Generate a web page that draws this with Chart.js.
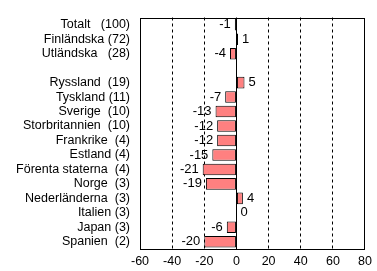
<!DOCTYPE html>
<html>
<head>
<meta charset="utf-8">
<script src="https://cdn.jsdelivr.net/npm/chart.js@4"></script>
<style>
  html, body { margin: 0; padding: 0; background: #fff; }
  #wrap { width: 377px; height: 271px; }
</style>
</head>
<body>
<div id="wrap"><canvas id="grafico"></canvas></div>
<script>
// Kategorier (tom rad mellan Utländska och Ryssland)
const kategorier = [
  "Totalt   (100)", "Finländska (72)", "Utländska   (28)", "",
  "Ryssland  (19)", "Tyskland (11)", "Sverige  (10)", "Storbritannien  (10)",
  "Frankrike  (4)", "Estland (4)", "Förenta staterna  (4)", "Norge  (3)",
  "Nederländerna  (3)", "Italien (3)", "Japan (3)", "Spanien  (2)"
];
const forandring = [-1, 1, -4, null, 5, -7, -13, -12, -12, -15, -21, -19, 4, 0, -6, -20];
const xTicks = [-60, -40, -20, 0, 20, 40, 60, 80];

const fontFamily = "Arial, 'Liberation Sans', sans-serif";

// Värdeetiketter vid staplarnas ändar
const etiketter = {
  id: "etiketter",
  afterDatasetsDraw(chart) {
    const ctx = chart.ctx;
    const meta = chart.getDatasetMeta(0);
    ctx.save();
    ctx.font = "13px " + fontFamily;
    ctx.fillStyle = "#000";
    ctx.textBaseline = "middle";
    meta.data.forEach((bar, i) => {
      const v = forandring[i];
      if (v === null) return;
      if (v < 0) {
        ctx.textAlign = "right";
        ctx.fillText(String(v), Math.min(bar.x, bar.base) - 4, bar.y);
      } else {
        ctx.textAlign = "left";
        ctx.fillText(String(v), Math.max(bar.x, bar.base) + 4, bar.y);
      }
    });
    ctx.restore();
  }
};

// Ram runt diagrammet och nollinje
const ram = {
  id: "ram",
  afterDatasetsDraw(chart) {
    const ctx = chart.ctx;
    const a = chart.chartArea;
    const x0 = chart.scales.x.getPixelForValue(0);
    ctx.save();
    ctx.strokeStyle = "#000";
    ctx.lineWidth = 1;
    ctx.beginPath();
    ctx.moveTo(Math.round(x0) + 0.5, a.top);
    ctx.lineTo(Math.round(x0) + 0.5, a.bottom);
    ctx.stroke();
    ctx.strokeRect(Math.round(a.left) + 0.5, Math.round(a.top) + 0.5,
      Math.round(a.right - a.left) - 1, Math.round(a.bottom - a.top) - 1);
    ctx.restore();
  }
};

new Chart(document.getElementById("grafico"), {
  type: "bar",
  data: {
    labels: kategorier,
    datasets: [{
      data: forandring,
      backgroundColor: "#FF8080",
      borderColor: "#000",
      borderWidth: 1,
      borderSkipped: false,
      barPercentage: 0.8,
      categoryPercentage: 1
    }]
  },
  options: {
    indexAxis: "y",
    responsive: true,
    maintainAspectRatio: false,
    animation: false,
    layout: { padding: { top: 3, right: 7, left: 0, bottom: 0 } },
    plugins: {
      legend: { display: false },
      tooltip: { enabled: false }
    },
    scales: {
      x: {
        min: -60,
        max: 80,
        afterBuildTicks: (scale) => {
          scale.ticks = xTicks.map((v) => ({ value: v }));
        },
        afterFit: (scale) => { scale.height = 22; },
        grid: {
          drawTicks: false,
          color: (c) => {
            const v = c.tick ? c.tick.value : null;
            return (v === 0 || v === -60 || v === 80) ? "rgba(0,0,0,0)" : "#000";
          },
          lineWidth: 1
        },
        border: { display: false, dash: [3, 3] },
        ticks: {
          color: "#000",
          padding: 5,
          font: { size: 12.5, family: fontFamily }
        }
      },
      y: {
        afterFit: (scale) => { scale.width = 140; },
        grid: { display: false, drawTicks: false },
        border: { display: false },
        ticks: {
          color: "#000",
          padding: 10,
          autoSkip: false,
          font: { size: 12.5, family: fontFamily }
        }
      }
    }
  },
  plugins: [etiketter, ram]
});
</script>
</body>
</html>
